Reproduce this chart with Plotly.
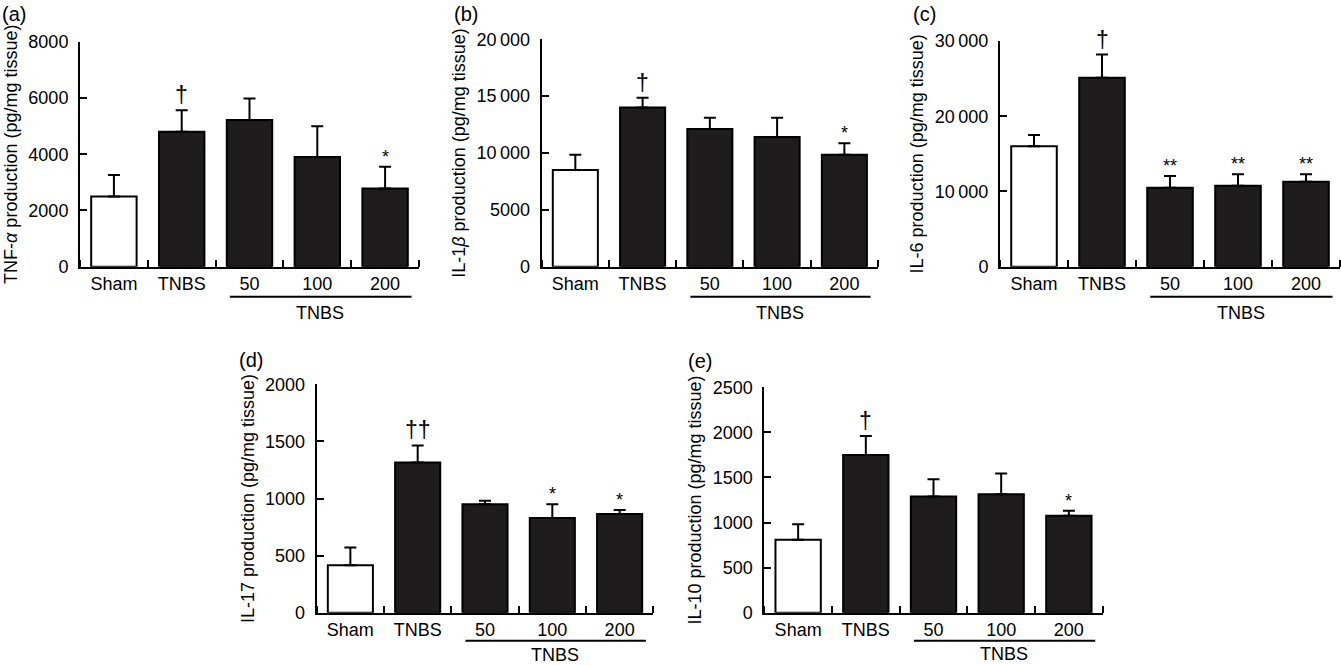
import plotly.graph_objects as go

W, H = 1341, 665
FONT = "Liberation Sans, Arial, Helvetica, sans-serif"
BLACK = "#1e1c1d"

# ---------------- data ----------------
categories = ["Sham", "TNBS", "50", "100", "200"]
group_label = "TNBS"
bar_fill = ["#ffffff", BLACK, BLACK, BLACK, BLACK]

tnf_mean = [2500, 4800, 5220, 3900, 2780]
tnf_err = [760, 760, 760, 1090, 770]
tnf_sig = ["", "†", "", "", "*"]
tnf_ticks = [0, 2000, 4000, 6000, 8000]
tnf_ticktext = ["0", "2000", "4000", "6000", "8000"]

il1b_mean = [8500, 14000, 12100, 11400, 9850]
il1b_err = [1350, 850, 1000, 1700, 1000]
il1b_sig = ["", "†", "", "", "*"]
il1b_ticks = [0, 5000, 10000, 15000, 20000]
il1b_ticktext = ["0", "5000", "10\u2009000", "15\u2009000", "20\u2009000"]

il6_mean = [16000, 25100, 10500, 10750, 11300]
il6_err = [1500, 3100, 1550, 1550, 1000]
il6_sig = ["", "†", "**", "**", "**"]
il6_ticks = [0, 10000, 20000, 30000]
il6_ticktext = ["0", "10\u2009000", "20\u2009000", "30\u2009000"]

il17_mean = [415, 1315, 950, 830, 865]
il17_err = [155, 150, 30, 120, 35]
il17_sig = ["", "††", "", "*", "*"]
il17_ticks = [0, 500, 1000, 1500, 2000]
il17_ticktext = ["0", "500", "1000", "1500", "2000"]

il10_mean = [810, 1750, 1290, 1315, 1075]
il10_err = [170, 210, 190, 230, 55]
il10_sig = ["", "†", "", "", "*"]
il10_ticks = [0, 500, 1000, 1500, 2000, 2500]
il10_ticktext = ["0", "500", "1000", "1500", "2000", "2500"]

panels = [
    dict(label="(a)", mean=tnf_mean, err=tnf_err, sig=tnf_sig,
         title="TNF-<i>α</i> production (pg/mg tissue)",
         ticks=tnf_ticks, ticktext=tnf_ticktext,
         box=(80, 419, 41.7, 266.7), lab=(0, 14), grp=(30, 46)),
    dict(label="(b)", mean=il1b_mean, err=il1b_err, sig=il1b_sig,
         title="IL-1<i>β</i> production (pg/mg tissue)",
         ticks=il1b_ticks, ticktext=il1b_ticktext,
         box=(541.7, 878, 39.3, 266.7), lab=(452, 14), grp=(30, 46)),
    dict(label="(c)", mean=il6_mean, err=il6_err, sig=il6_sig,
         title="IL-6 production (pg/mg tissue)",
         ticks=il6_ticks, ticktext=il6_ticktext,
         box=(1000, 1340, 41, 266.7), lab=(911, 14), grp=(30, 46)),
    dict(label="(d)", mean=il17_mean, err=il17_err, sig=il17_sig,
         title="IL-17 production (pg/mg tissue)",
         ticks=il17_ticks, ticktext=il17_ticktext,
         box=(316.7, 653.3, 384.3, 612.7), lab=(237, 360), grp=(28, 42)),
    dict(label="(e)", mean=il10_mean, err=il10_err, sig=il10_sig,
         title="IL-10 production (pg/mg tissue)",
         ticks=il10_ticks, ticktext=il10_ticktext,
         box=(764.3, 1102.7, 387.3, 612.7), lab=(686, 361), grp=(28, 41)),
]


def px(x):
    return x / W


def py(y):
    return 1 - y / H


fig = go.Figure()
annotations = []
shapes = []
FS = 18

for i, p in enumerate(panels, start=1):
    xa = "x" if i == 1 else f"x{i}"
    ya = "y" if i == 1 else f"y{i}"
    x0, x1, ytop, ybot = p["box"]

    fig.add_trace(go.Bar(
        x=list(range(len(categories))), y=p["mean"], xaxis=xa, yaxis=ya,
        width=0.67,
        marker=dict(color=bar_fill, line=dict(color="black", width=2)),
        error_y=dict(type="data", array=p["err"], arrayminus=[0] * len(p["err"]),
                     symmetric=False, color="black", thickness=2, width=6),
        showlegend=False, hovertext=categories, hoverinfo="text+y",
    ))

    common_font = dict(family=FONT, size=FS, color="black")
    fig.update_layout(**{
        ("xaxis" if i == 1 else f"xaxis{i}"): dict(
            domain=[px(x0), px(x1)], anchor=ya,
            range=[-0.5, len(categories) - 0.5],
            tickmode="array", tickvals=list(range(len(categories))),
            ticktext=categories,
            showline=True, linecolor="black", linewidth=2,
            ticks="", tickfont=common_font, showgrid=False,
            zeroline=False, fixedrange=True, automargin=False,
            minor=dict(tickmode="array",
                       tickvals=[k + 0.5 for k in range(-1, len(categories))],
                       ticks="inside", ticklen=7, tickwidth=2,
                       tickcolor="black", showgrid=False),
        ),
        ("yaxis" if i == 1 else f"yaxis{i}"): dict(
            domain=[py(ybot), py(ytop)], anchor=xa,
            range=[0, p["ticks"][-1]],
            tickvals=p["ticks"], ticktext=p["ticktext"],
            showline=True, linecolor="black", linewidth=2,
            ticks="inside", ticklen=7, tickwidth=2, tickcolor="black",
            ticklabelstandoff=6,
            tickfont=common_font, showgrid=False, zeroline=False,
            title=dict(text=p["title"], font=common_font, standoff=6),
            fixedrange=True, automargin=False,
        ),
    })

    # significance marks
    for k, (m, e, s) in enumerate(zip(p["mean"], p["err"], p["sig"])):
        if s:
            dag = "†" in s
            annotations.append(dict(
                x=k, y=m + e, xref=xa, yref=ya, text=s, showarrow=False,
                yanchor="bottom", yshift=0 if dag else -2,
                font=dict(family=FONT, size=23 if dag else 18, color="black"),
            ))

    # group underline and label
    line_y = py(ybot + p["grp"][0])
    shapes.append(dict(type="line", xref=xa, yref="paper",
                       x0=1.71, x1=4.39, y0=line_y, y1=line_y,
                       line=dict(color="black", width=2)))
    annotations.append(dict(x=3.04, y=py(ybot + p["grp"][1]), xref=xa,
                            yref="paper", text=group_label, showarrow=False,
                            yanchor="middle",
                            font=dict(family=FONT, size=FS, color="black")))

    # panel label
    annotations.append(dict(x=px(p["lab"][0]), y=py(p["lab"][1]), xref="paper",
                            yref="paper", text=p["label"], showarrow=False,
                            xanchor="left", yanchor="middle",
                            font=dict(family=FONT, size=20, color="black")))

fig.update_layout(
    width=W, height=H,
    margin=dict(l=0, r=0, t=0, b=0),
    paper_bgcolor="white", plot_bgcolor="white",
    font=dict(family=FONT, size=FS, color="black"),
    annotations=annotations, shapes=shapes,
)

fig.write_html(
    "out.html",
    config={"displayModeBar": False},
    post_script="document.body.style.margin='0';document.body.style.overflow='hidden';",
)
